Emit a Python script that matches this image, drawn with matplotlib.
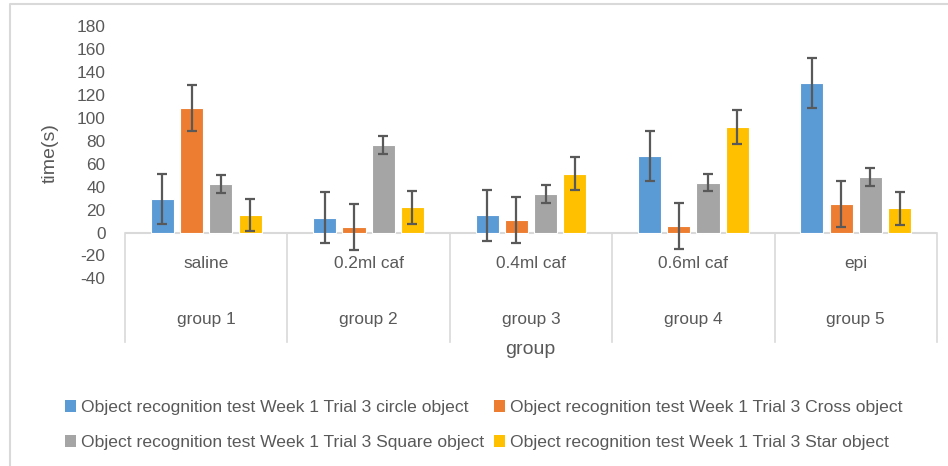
"""Object recognition test, week 1 trial 3: time per object by group."""

import matplotlib

matplotlib.use("Agg")

import matplotlib.pyplot as plt
import numpy as np
from matplotlib.lines import Line2D
from matplotlib.patches import Patch


GROUPS = ["group 1", "group 2", "group 3", "group 4", "group 5"]
TREATMENTS = ["saline", "0.2ml caf", "0.4ml caf", "0.6ml caf", "epi"]

SERIES = [
    "Object recognition test Week 1 Trial 3 circle object",
    "Object recognition test Week 1 Trial 3 Cross object",
    "Object recognition test Week 1 Trial 3 Square object",
    "Object recognition test Week 1 Trial 3 Star object",
]

circle = [29, 13, 15, 66.5, 130.5]
cross = [108.5, 4.8, 11, 5.7, 24.5]
square = [42.3, 76.3, 33.4, 43.5, 48.4]
star = [15.5, 22, 51.3, 92, 21]

circle_err = [22, 22.5, 22, 22, 22]
cross_err = [20, 20, 20, 20, 20]
square_err = [7.5, 7.5, 7.6, 7.4, 7.6]
star_err = [14, 14.4, 14.6, 14.5, 14.6]

COLORS = ["#5B9BD5", "#ED7D31", "#A5A5A5", "#FFC000"]
TEXT = "#595959"
GRID = "#D9D9D9"

W, H = 948, 466


def main() -> None:
    plt.rcParams["font.family"] = ["Liberation Sans", "DejaVu Sans"]
    plt.rcParams["axes.unicode_minus"] = False

    fig = plt.figure(figsize=(W / 100, H / 100), dpi=100, facecolor="white")
    ax = fig.add_axes([125 / W, 1 - 278.4 / H, (937 - 125) / W, (278.4 - 26) / H])

    values = [circle, cross, square, star]
    errors = [circle_err, cross_err, square_err, star_err]
    x = np.arange(len(GROUPS))
    pitch, width = 0.18, 0.142
    for i, (vals, errs, color) in enumerate(zip(values, errors, COLORS)):
        ax.bar(
            x + (i - 1.5) * pitch,
            vals,
            width,
            color=color,
            edgecolor="white",
            linewidth=0.8,
            yerr=errs,
            capsize=3.5,
            error_kw={"ecolor": TEXT, "elinewidth": 1.6, "capthick": 1.6},
            zorder=3,
        )

    ax.set_xlim(-0.5, len(GROUPS) - 0.5)
    ax.set_ylim(-40, 180)
    ax.set_yticks(np.arange(-40, 181, 20))
    ax.tick_params(axis="y", length=0, pad=14, labelsize=12.4, labelcolor=TEXT)
    ax.set_xticks([])
    for spine in ax.spines.values():
        spine.set_visible(False)

    ax.axhline(0, color=GRID, linewidth=1.5, zorder=2)

    # multi-level category boxes below the zero line
    for edge in np.arange(len(GROUPS) + 1) - 0.5:
        ax.plot([edge, edge], [0, -95.5], color=GRID, linewidth=1.2,
                clip_on=False, zorder=1)
    for xi, treat, grp in zip(x, TREATMENTS, GROUPS):
        ax.text(xi, -26.6, treat, ha="center", va="center", fontsize=12.4,
                color=TEXT, clip_on=False)
        ax.text(xi, -75.4, grp, ha="center", va="center", fontsize=12.4,
                color=TEXT, clip_on=False)

    fig.text(530 / W, 1 - 350 / H, "group", ha="center", va="center",
             fontsize=14, color=TEXT)
    fig.text(50 / W, 1 - 153 / H, "time(s)", ha="center", va="center",
             rotation=90, fontsize=14, color=TEXT)

    # chart area border (only top and left visible in the crop)
    fig.add_artist(Line2D([9.5 / W, 9.5 / W, 1], [0, 1 - 4 / H, 1 - 4 / H],
                          transform=fig.transFigure, color=GRID, linewidth=1.5))

    order = [0, 2, 1, 3]
    handles = [Patch(facecolor=COLORS[i], edgecolor="none") for i in order]
    labels = [SERIES[i] for i in order]
    fig.legend(
        handles,
        labels,
        ncol=2,
        loc="upper left",
        bbox_to_anchor=(65 / W, 1 - 400 / H),
        frameon=False,
        borderpad=0,
        borderaxespad=0,
        handlelength=0.62,
        handleheight=0.62,
        handletextpad=0.3,
        columnspacing=0.55,
        labelspacing=1.15,
        fontsize=12.6,
        labelcolor=TEXT,
    )

    fig.savefig("out.png", dpi=100, facecolor="white")
    plt.close(fig)


if __name__ == "__main__":
    main()
